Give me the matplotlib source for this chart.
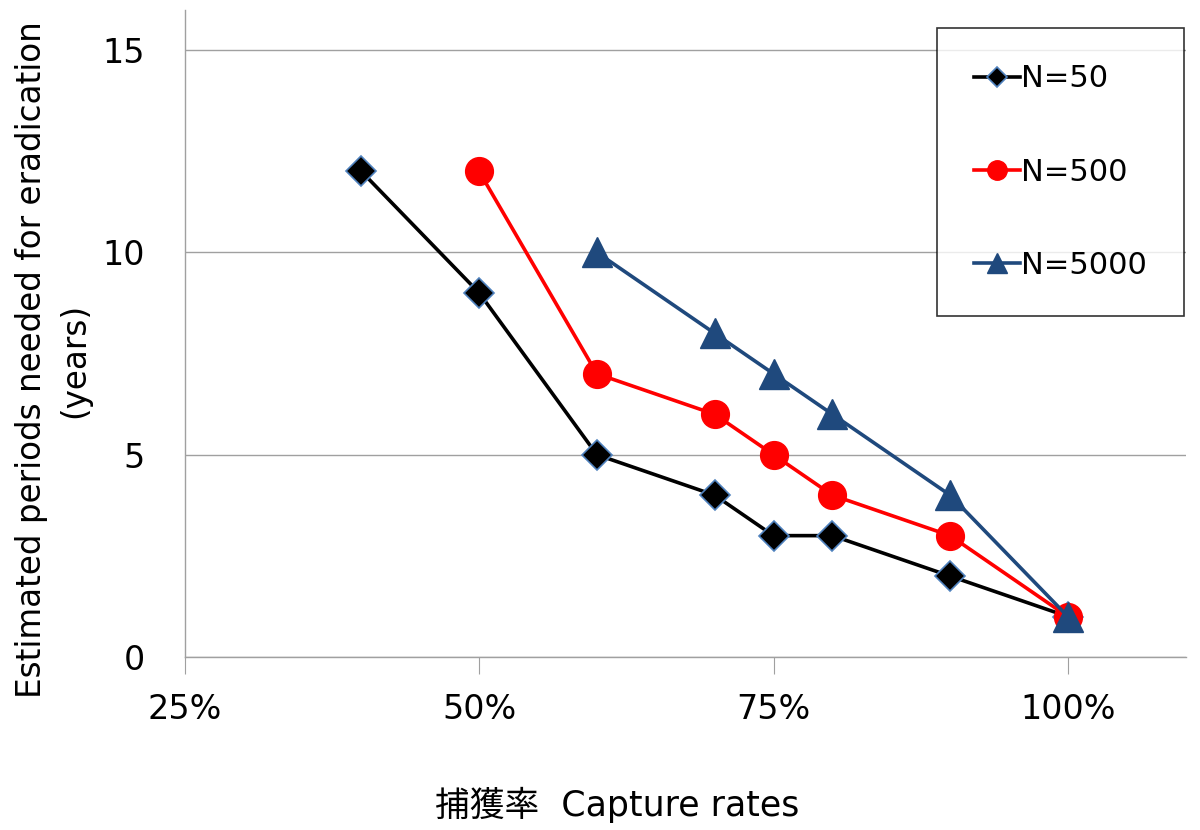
import matplotlib
matplotlib.use("Agg")
import matplotlib.pyplot as plt

# capture rate (%) vs. years needed for eradication
rates_50 = [40, 50, 60, 70, 75, 80, 90, 100]
years_50 = [12, 9, 5, 4, 3, 3, 2, 1]

rates_500 = [50, 60, 70, 75, 80, 90, 100]
years_500 = [12, 7, 6, 5, 4, 3, 1]

rates_5000 = [60, 70, 75, 80, 90, 100]
years_5000 = [10, 8, 7, 6, 4, 1]

x_ticks = [25, 50, 75, 100]
x_tick_labels = ["25%", "50%", "75%", "100%"]
y_ticks = [0, 5, 10, 15]

plt.rcParams['font.family'] = ['DejaVu Sans', 'Noto Sans CJK JP']

fig = plt.figure(figsize=(12, 8.3), dpi=100)
ax = fig.add_axes([0.154, 0.2084, 0.834, 0.78])

navy = "#1f497d"
ax.plot(rates_50, years_50, color="black", lw=2.6, marker="D", ms=15,
        mfc="black", mec="#4f81bd", mew=1.2, label="N=50", zorder=3)
ax.plot(rates_500, years_500, color="#ff0000", lw=2.6, marker="o", ms=20,
        mfc="#ff0000", mec="#ff0000", label="N=500", zorder=4)
ax.plot(rates_5000, years_5000, color=navy, lw=2.6, marker="^", ms=21,
        mfc=navy, mec=navy, label="N=5000", zorder=5)

ax.set_xlim(25, 110)
ax.set_ylim(0, 16)
ax.set_xticks(x_ticks)
ax.set_xticklabels(x_tick_labels, fontsize=24)
ax.set_yticks(y_ticks)
ax.tick_params(axis='y', length=0, pad=29, labelsize=24)
ax.tick_params(axis='x', length=12, color="#a0a0a0", pad=14)

ax.yaxis.grid(True, color="#a0a0a0", lw=1)
ax.set_axisbelow(True)
for side in ["top", "right"]:
    ax.spines[side].set_visible(False)
for side in ["left", "bottom"]:
    ax.spines[side].set_color("#a0a0a0")
    ax.spines[side].set_linewidth(1)

# axis titles placed in figure pixels
fig.text(53 / 1200, 1 - 360 / 830,
         "Estimated periods needed for eradication\n(years)",
         fontsize=23.5, linespacing=1.4, rotation=90,
         ha="center", va="center", multialignment="center")
fig.text(617 / 1200, 1 - 805 / 830, "捕獲率  Capture rates", fontsize=25,
         ha="center", va="center")

leg = ax.legend(loc="upper left", bbox_to_anchor=(0.752, 0.972), fontsize=22,
                frameon=True, fancybox=False, edgecolor="black",
                handlelength=1.5, handletextpad=0.05, markerscale=0.7,
                labelspacing=2.1, borderpad=1.2, borderaxespad=0)
leg.get_frame().set_linewidth(1.2)

fig.savefig("out.png", dpi=100)
